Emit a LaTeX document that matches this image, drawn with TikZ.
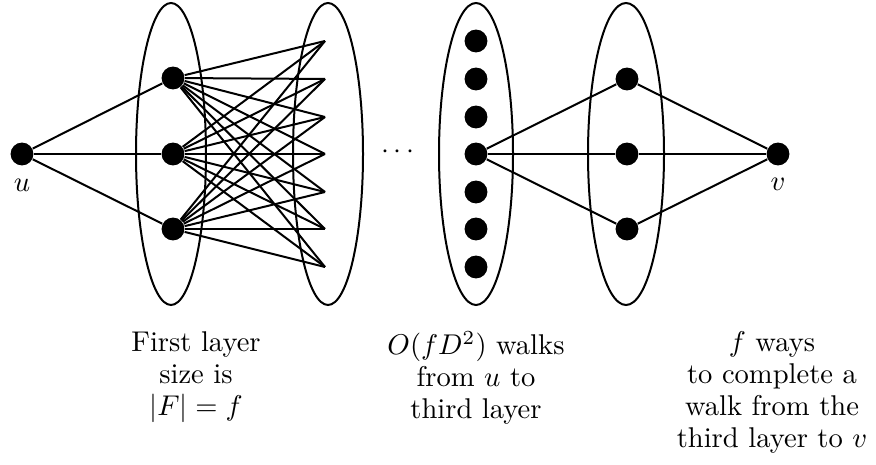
\documentclass[tikz,border=0pt]{standalone}
\begin{document}
\begin{tikzpicture}[x=0.35pt,y=-0.35pt,
  dot/.style={circle,fill=black,inner sep=0pt,minimum size=8pt},
  edge/.style={line width=0.7pt},
  ring/.style={line width=0.7pt},
  caption/.style={align=center,inner sep=0pt,anchor=north,font=\fontsize{10}{11.2}\selectfont},
  lbl/.style={inner sep=0pt}]
\useasboundingbox (0,0) rectangle (876,465);
% ellipses
\draw[ring] (171,154) ellipse [x radius=35, y radius=151];
\draw[ring] (328,154) ellipse [x radius=35, y radius=151];
\draw[ring] (476,154) ellipse [x radius=37, y radius=151];
\draw[ring] (626,154) ellipse [x radius=38, y radius=151];
% second-layer endpoints
\foreach \i/\y in {1/41,2/79,3/117,4/154,5/192,6/229,7/267}
  \coordinate (s\i) at (325,\y);
% nodes
\node[dot] (u) at (22,154) {};
\node[dot] (a1) at (173,78) {};
\node[dot] (a2) at (173,154) {};
\node[dot] (a3) at (173,229) {};
\foreach \i/\y in {1/41,2/79,3/117,4/154,5/192,6/229,7/267}
  \node[dot] (c\i) at (476,\y) {};
\node[dot] (d1) at (627,79) {};
\node[dot] (d2) at (627,154) {};
\node[dot] (d3) at (627,229) {};
\node[dot] (v) at (778,154) {};
% edges
\foreach \a in {a1,a2,a3} {
  \draw[edge] (u) -- (\a);
  \foreach \i in {1,...,7} \draw[edge] (\a) -- (s\i);
}
\foreach \d in {d1,d2,d3} {
  \draw[edge] (c4) -- (\d);
  \draw[edge] (\d) -- (v);
}
% labels
\node[lbl] (ul) at (22,185) {$u$};
\node[lbl] (vl) at (778,184) {$v$};
\node[lbl] (dd) at (398,152) {$\cdots$};
\node[caption] (t1) at (196,331) {First layer\\size is\\$|F|=f$};
\node[caption] (t2) at (476,331) {$O(fD^2)$ walks\\from $u$ to\\third layer};
\node[caption] (t3) at (772,331) {$f$ ways\\to complete a\\walk from the\\third layer to $v$};
\end{tikzpicture}
\end{document}
